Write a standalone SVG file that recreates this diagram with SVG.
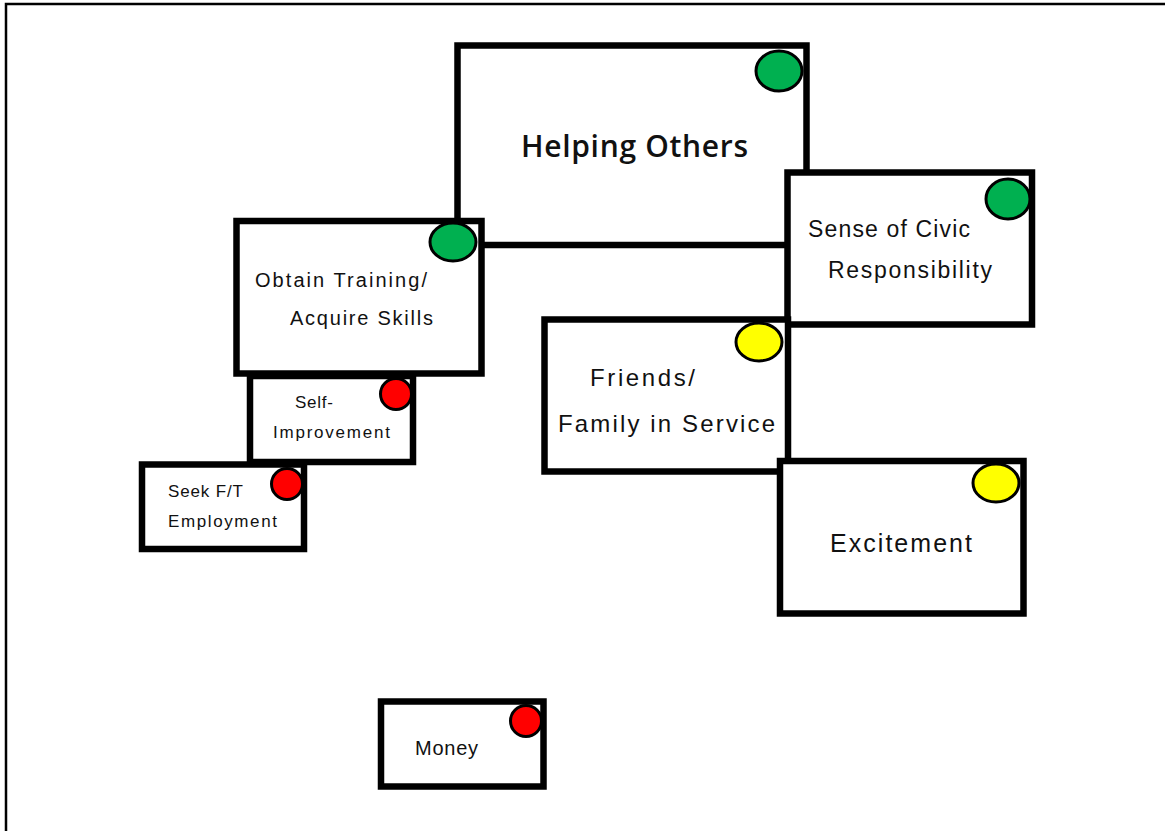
<svg xmlns="http://www.w3.org/2000/svg" width="1165" height="831" viewBox="0 0 1165 831">
<style>
.box{fill:#fff;stroke:#000;stroke-width:6.5}
.dot{stroke:#000;stroke-width:3}
.g{fill:#00B050}.y{fill:#FFFF00}.r{fill:#FF0000}
text{font-family:"Liberation Sans",Arial,sans-serif;fill:#111}
.title{font-family:"Open Sans","Liberation Sans",sans-serif;font-weight:600}
</style>
<rect width="1165" height="831" fill="#fff"/>
<path d="M6,831 V4 H1165" fill="none" stroke="#000" stroke-width="2.5"/>
<g id="connectors"></g>
<g id="helping-others">
<rect class="box" x="457.5" y="45.5" width="349" height="199.5"/>
<ellipse class="dot g" cx="779" cy="71" rx="23" ry="20"/>
<text class="title" x="521" y="157" font-size="30" textLength="227">Helping Others</text>
</g>
<g id="obtain-training">
<rect class="box" x="236.5" y="221" width="245" height="152.5"/>
<ellipse class="dot g" cx="453" cy="242" rx="23" ry="19"/>
<text x="255" y="287" font-size="20" textLength="172">Obtain Training/</text>
<text x="290" y="325" font-size="20" textLength="143">Acquire Skills</text>
</g>
<g id="civic-responsibility">
<rect class="box" x="787.5" y="172.5" width="244.5" height="152"/>
<ellipse class="dot g" cx="1008" cy="199" rx="22" ry="20"/>
<text x="808" y="237" font-size="23" textLength="162">Sense of Civic</text>
<text x="828" y="278" font-size="23" textLength="164">Responsibility</text>
</g>
<g id="friends-family">
<rect class="box" x="544.5" y="319.5" width="243.5" height="152"/>
<ellipse class="dot y" cx="759" cy="342" rx="23" ry="19"/>
<text x="590" y="386" font-size="24" textLength="105">Friends/</text>
<text x="558" y="432" font-size="24" textLength="217">Family in Service</text>
</g>
<g id="excitement">
<rect class="box" x="780" y="461" width="243.5" height="152.5"/>
<ellipse class="dot y" cx="996" cy="483" rx="23" ry="19"/>
<text x="830" y="552" font-size="25" textLength="142">Excitement</text>
</g>
<g id="self-improvement">
<rect class="box" x="250" y="376" width="163" height="86"/>
<circle class="dot r" cx="396" cy="394" r="15.5"/>
<text x="295" y="408" font-size="17" textLength="38">Self-</text>
<text x="273" y="438" font-size="17" textLength="117">Improvement</text>
</g>
<g id="seek-employment">
<rect class="box" x="142" y="464.5" width="162" height="84.5"/>
<circle class="dot r" cx="287" cy="484" r="15.5"/>
<text x="168" y="497" font-size="17" textLength="75">Seek F/T</text>
<text x="168" y="527" font-size="17" textLength="109">Employment</text>
</g>
<g id="money">
<rect class="box" x="381" y="701.5" width="162.5" height="85"/>
<circle class="dot r" cx="526" cy="721" r="15.5"/>
<text x="415" y="755" font-size="20" textLength="63">Money</text>
</g>
</svg>
